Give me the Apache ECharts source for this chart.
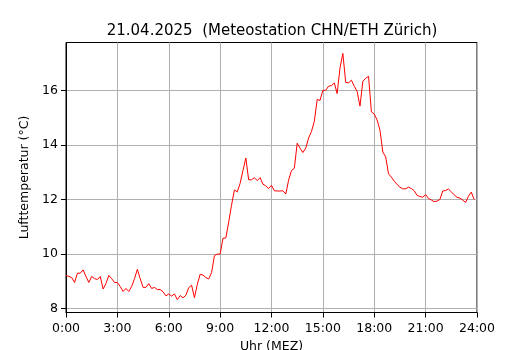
<!DOCTYPE html>
<html>
<head>
<meta charset="utf-8">
<script src="https://cdn.jsdelivr.net/npm/echarts@6/dist/echarts.min.js"></script>
<style>
  html, body { margin: 0; padding: 0; background: #fff; }
  #main { width: 530px; height: 350px; }
</style>
</head>
<body>
<div id="main"></div>
<script>
const chartTitle = '21.04.2025  (Meteostation CHN/ETH Zürich)';
const stepMinutes = 10; // one reading every 10 minutes, starting at 0:00

// air temperature in °C, 0:00 .. 23:50
const temps = [
  9.22, 9.18, 9.14, 8.96, 9.30, 9.30, 9.42, 9.18, 8.96, 9.18, 9.10, 9.07,
  9.18, 8.72, 8.92, 9.22, 9.10, 8.96, 8.96, 8.81, 8.63, 8.74, 8.63, 8.81,
  9.10, 9.44, 9.10, 8.78, 8.78, 8.92, 8.74, 8.78, 8.70, 8.70, 8.62, 8.47,
  8.54, 8.46, 8.54, 8.33, 8.48, 8.40, 8.49, 8.77, 8.86, 8.40, 8.89, 9.26,
  9.23, 9.14, 9.09, 9.32, 9.94, 10.00, 10.00, 10.58, 10.59, 11.17, 11.79, 12.35,
  12.28, 12.59, 13.06, 13.52, 12.72, 12.72, 12.80, 12.69, 12.80, 12.56, 12.50, 12.40,
  12.52, 12.32, 12.31, 12.31, 12.32, 12.20, 12.71, 13.06, 13.14, 14.06, 13.88, 13.72,
  13.88, 14.25, 14.49, 14.86, 15.66, 15.63, 16.00, 16.00, 16.15, 16.17, 16.27, 15.88,
  16.82, 17.35, 16.29, 16.27, 16.37, 16.15, 15.96, 15.42, 16.33, 16.44, 16.51, 15.21,
  15.13, 14.91, 14.54, 13.74, 13.56, 12.94, 12.82, 12.67, 12.55, 12.45, 12.39, 12.39,
  12.45, 12.40, 12.32, 12.15, 12.11, 12.08, 12.18, 12.04, 11.98, 11.92, 11.94, 12.00,
  12.31, 12.33, 12.38, 12.28, 12.17, 12.08, 12.05, 11.98, 11.89, 12.12, 12.27, 12.00
];

const yTicks = [8, 10, 12, 14, 16];

const seriesData = temps.map((t, i) => [i * stepMinutes, t]);

const chart = echarts.init(document.getElementById('main'));
const font = 'DejaVu Sans';

const option = {
  animation: false,
  backgroundColor: '#fff',
  title: {
    text: chartTitle,
    left: 267, top: 19, textAlign: 'center',
    textStyle: { fontFamily: font, fontSize: 15, fontWeight: 'normal', color: '#000' }
  },
  grid: {
    left: 66, right: 53, top: 42.5, bottom: 37.5,
    outerBoundsMode: 'none', containLabel: false,
    show: true, borderColor: '#000', borderWidth: 1
  },
  xAxis: {
    type: 'value',
    min: 0, max: 1440, interval: 180,
    name: 'Uhr (MEZ)', nameLocation: 'middle', nameGap: 27,
    nameTextStyle: { fontFamily: font, fontSize: 12.5, color: '#000' },
    axisLine: { show: true, lineStyle: { color: '#000', width: 1 } },
    axisTick: { show: true, inside: false, length: 5, lineStyle: { color: '#000' } },
    axisLabel: {
      fontFamily: font, fontSize: 12.5, color: '#000', margin: 10,
      formatter: v => (v / 60) + ':00'
    },
    splitLine: { show: true, lineStyle: { color: '#b0b0b0', width: 1 } }
  },
  yAxis: {
    type: 'value',
    min: 7.86, max: 17.75,
    name: 'Lufttemperatur (°C)', nameLocation: 'middle', nameGap: 34, nameRotate: 90,
    nameTextStyle: { fontFamily: font, fontSize: 12.5, color: '#000' },
    axisLine: { show: true, lineStyle: { color: '#000', width: 1 } },
    axisTick: { show: true, inside: false, length: 5, customValues: yTicks, lineStyle: { color: '#000' } },
    axisLabel: { fontFamily: font, fontSize: 12.5, color: '#000', margin: 8, customValues: yTicks },
    splitLine: { show: true, lineStyle: { color: '#b0b0b0', width: 1 } }
  },
  series: [{
    type: 'line',
    data: seriesData,
    showSymbol: false,
    lineStyle: { color: '#ff0000', width: 1 },
    itemStyle: { color: '#ff0000' }
  }]
};

chart.setOption(option);
</script>
</body>
</html>
